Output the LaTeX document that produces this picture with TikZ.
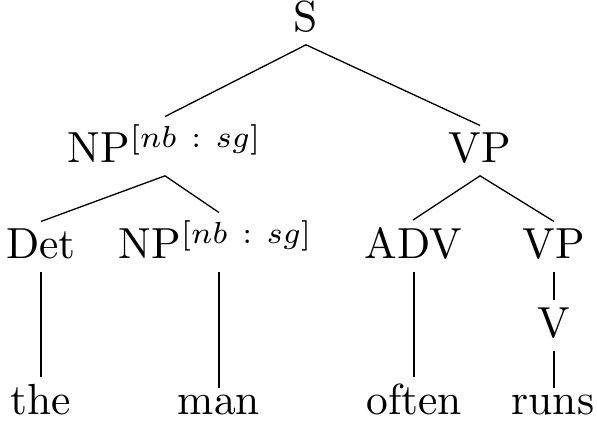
\documentclass[tikz,border=0pt]{standalone}
\newcommand{\nbsg}{^{[nb\ :\ sg]}}
\tikzset{
  tree_font/.style = {font=\normalsize},
  cat/.style = {tree_font, anchor=base, inner sep=1.6pt, text depth=1.15pt},
  word/.style = {cat},
  branch/.style = {line width=0.3pt}
}

\begin{document}
\begin{tikzpicture}[x=0.23pt, y=-0.23pt]
    \useasboundingbox (0,0) rectangle (597,423);

    % Categories
    \node[cat] (s) at (306,32) {S};
    \node[cat] (np_1) at (165,163) {NP$\nbsg$};
    \node[cat] (vp_1) at (480,163) {VP};
    \node[cat] (det) at (41,259) {Det};
    \node[cat] (np_2) at (216,259) {NP$\nbsg$};
    \node[cat] (adv) at (413,259) {ADV};
    \node[cat] (vp_2) at (554,259) {VP};
    \node[cat] (v) at (554,338) {V};

    % Words
    \node[word] (the) at (41,415) {the};
    \node[word] (man) at (219,415) {man};
    \node[word] (often) at (414,415) {often};
    \node[word] (runs) at (553,415) {runs};

    % Branches
    \draw[branch] (np_1.north) -- (s.south) -- (vp_1.north);
    \draw[branch] (det.north) -- (np_1.south) -- (np_2.north -| man.north);
    \draw[branch] (adv.north) -- (vp_1.south) -- (vp_2.north);
    \draw[branch] (vp_2.south) -- (v.north);

    \draw[branch] (the.north |- det.south) -- (the.north);
    \draw[branch] (man.north |- np_2.south) -- (man.north);
    \draw[branch] (often.north |- adv.south) -- (often.north);
    \draw[branch] (v.south) -- (runs.north -| v.south);
\end{tikzpicture}
\end{document}
